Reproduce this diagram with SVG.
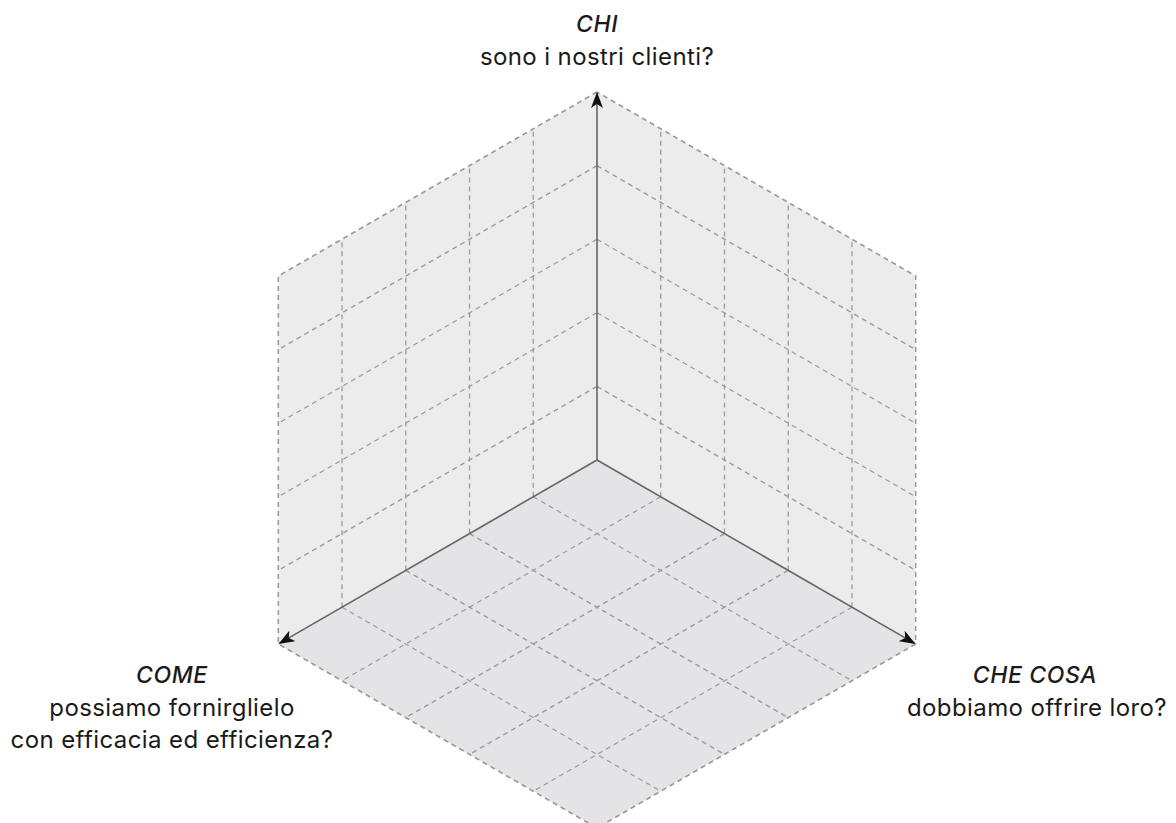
<svg xmlns="http://www.w3.org/2000/svg" width="1176" height="823" viewBox="0 0 1176 823">
<style>
.wall{fill:#ececec;stroke:none}
.floor{fill:#e4e4e6;stroke:none}
.grid{stroke:#9a9a9a;stroke-width:1.3;stroke-dasharray:5 4;fill:none}
.edge{stroke:#9a9a9a;stroke-width:1.5;stroke-dasharray:5 4;fill:none}
.axis{stroke:#666;stroke-width:1.6;fill:none}
.t{font-family:Inter,"Liberation Sans",sans-serif;font-size:24px;letter-spacing:0.4px;fill:#1a1a1a;text-anchor:middle}
.h{font-style:italic;font-weight:500;font-size:23px;letter-spacing:0.6px}
</style>
<defs>
<marker id="arr" viewBox="0 0 16 12" refX="15" refY="6" markerWidth="16" markerHeight="12" markerUnits="userSpaceOnUse" orient="auto">
<path d="M0,0 L16,6 L0,12 L4,6 z" fill="#111"/>
</marker>
</defs>
<g id="faces">
<polygon class="wall" points="597,460 597,92 278.3,276 278.3,644"/>
<polygon class="wall" points="597,460 597,92 915.7,276 915.7,644"/>
<polygon class="floor" points="597,460 278.3,644 597,828 915.7,644"/>
</g>
<g id="grid">
<line class="grid" x1="533.26" y1="496.8" x2="533.26" y2="128.8"/>
<line class="grid" x1="469.52" y1="533.6" x2="469.52" y2="165.6"/>
<line class="grid" x1="405.78" y1="570.4" x2="405.78" y2="202.4"/>
<line class="grid" x1="342.04" y1="607.2" x2="342.04" y2="239.2"/>
<line class="grid" x1="597" y1="386.4" x2="278.3" y2="570.4"/>
<line class="grid" x1="597" y1="312.8" x2="278.3" y2="496.8"/>
<line class="grid" x1="597" y1="239.2" x2="278.3" y2="423.2"/>
<line class="grid" x1="597" y1="165.6" x2="278.3" y2="349.6"/>
<line class="grid" x1="660.74" y1="496.8" x2="660.74" y2="128.8"/>
<line class="grid" x1="724.48" y1="533.6" x2="724.48" y2="165.6"/>
<line class="grid" x1="788.22" y1="570.4" x2="788.22" y2="202.4"/>
<line class="grid" x1="851.96" y1="607.2" x2="851.96" y2="239.2"/>
<line class="grid" x1="597" y1="386.4" x2="915.7" y2="570.4"/>
<line class="grid" x1="597" y1="312.8" x2="915.7" y2="496.8"/>
<line class="grid" x1="597" y1="239.2" x2="915.7" y2="423.2"/>
<line class="grid" x1="597" y1="165.6" x2="915.7" y2="349.6"/>
<line class="grid" x1="660.74" y1="496.8" x2="342.04" y2="680.8"/>
<line class="grid" x1="724.48" y1="533.6" x2="405.78" y2="717.6"/>
<line class="grid" x1="788.22" y1="570.4" x2="469.52" y2="754.4"/>
<line class="grid" x1="851.96" y1="607.2" x2="533.26" y2="791.2"/>
<line class="grid" x1="533.26" y1="496.8" x2="851.96" y2="680.8"/>
<line class="grid" x1="469.52" y1="533.6" x2="788.22" y2="717.6"/>
<line class="grid" x1="405.78" y1="570.4" x2="724.48" y2="754.4"/>
<line class="grid" x1="342.04" y1="607.2" x2="660.74" y2="791.2"/>
<polyline class="edge" points="597,92 278.3,276 278.3,644 597,828 915.7,644 915.7,276 597,92"/>
</g>
<g id="connectors">
<line class="axis" x1="597" y1="460" x2="597" y2="93" marker-end="url(#arr)"/>
<line class="axis" x1="597" y1="460" x2="279.3" y2="643.4" marker-end="url(#arr)"/>
<line class="axis" x1="597" y1="460" x2="914.7" y2="643.4" marker-end="url(#arr)"/>
</g>
<g id="label-chi">
<text class="t h" x="597" y="32">CHI</text>
<text class="t" x="597" y="65">sono i nostri clienti?</text>
</g>
<g id="label-come">
<text class="t h" x="172" y="683">COME</text>
<text class="t" x="172" y="716">possiamo fornirglielo</text>
<text class="t" x="172" y="748">con efficacia ed efficienza?</text>
</g>
<g id="label-checosa">
<text class="t h" x="1035" y="683">CHE COSA</text>
<text class="t" x="1037" y="716">dobbiamo offrire loro?</text>
</g>
</svg>
